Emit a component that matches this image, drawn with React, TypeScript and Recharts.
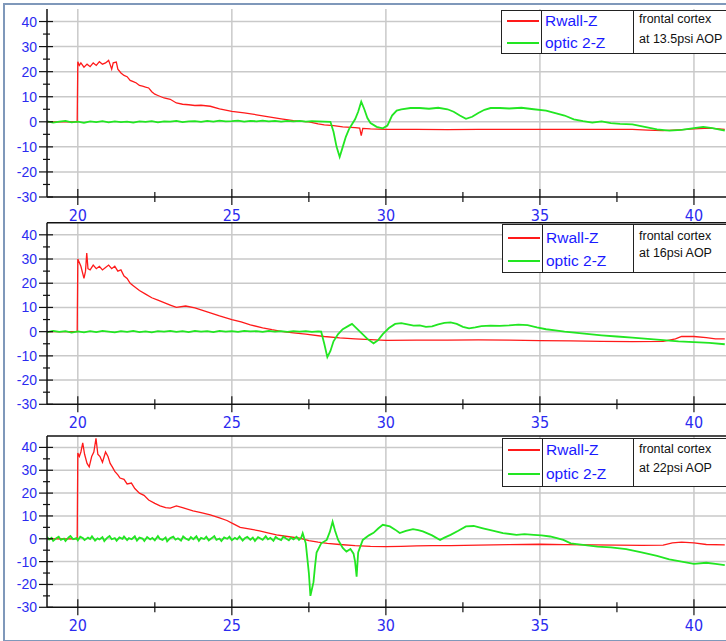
import React from "react";
import { LineChart, Line, XAxis, YAxis, CartesianGrid, ReferenceLine } from "recharts";

// x ticks (major every 5, minor halfway) and y ticks
const xTicks = [20, 22.5, 25, 27.5, 30, 32.5, 35, 37.5, 40];
const yTicks = [-30, -25, -20, -15, -10, -5, 0, 5, 10, 15, 20, 25, 30, 35, 40];
const xGrid = [20, 25, 30, 35, 40];
const yGrid = [-20, -10, 0, 10, 20, 30, 40];

const seriesNames = ["Rwall-Z", "optic 2-Z"];
const panelNotes = ["at 13.5psi AOP", "at 16psi AOP", "at 22psi AOP"];

// panel 1 (13.5 psi)
const rwall1: [number, number][] = [
  [19, 0], [19.5, 0], [19.98, 0], [20, 24], [20.05, 22.5], [20.1, 23.5], [20.2, 21.8], [20.3, 23],
  [20.4, 22], [20.5, 23.5], [20.6, 22.5], [20.7, 24], [20.8, 23], [20.9, 23.5], [21.0, 24.5],
  [21.05, 22.8], [21.1, 21], [21.15, 23.5], [21.25, 23.8], [21.3, 21], [21.4, 19.5], [21.5, 18.5],
  [21.6, 18], [21.7, 16.5], [21.8, 16], [21.9, 15.5], [22.0, 14.5], [22.1, 14.2], [22.2, 13.8],
  [22.3, 13.5], [22.4, 12], [22.5, 11], [22.6, 10.5], [22.7, 10], [22.8, 9.5], [23, 9], [23.2, 7.5],
  [23.4, 7], [23.6, 6.8], [23.8, 6.5], [24.0, 6.6], [24.3, 6.2], [24.6, 5.2], [25, 4.2], [25.4, 3.6],
  [25.8, 2.8], [26.2, 2], [26.6, 1.2], [27, 0.5], [27.5, 0], [27.8, -0.8], [28, -1.2], [28.3, -1.5],
  [28.6, -2], [29, -2.3], [29.15, -2.5], [29.2, -5.5], [29.25, -2.6], [29.5, -2.8], [30, -3],
  [31, -3], [32, -3.1], [33, -3], [34, -3], [35, -3], [36, -3], [37, -3], [38, -3], [38.5, -3.3],
  [39, -3.5], [39.5, -3.2], [40, -2.8], [40.5, -2.5], [41, -3],
];
const optic1: [number, number][] = [
  [19.0, 0.2], [19.2, -0.3], [19.4, 0.1], [19.6, 0.4], [19.8, -0.2], [20.0, 0.1], [20.2, -0.4],
  [20.4, 0.2], [20.6, -0.1], [20.8, 0.3], [21.0, -0.2], [21.2, 0.2], [21.4, -0.1], [21.6, 0.1],
  [21.8, -0.3], [22.0, 0.2], [22.2, 0], [22.4, 0.3], [22.6, -0.2], [22.8, 0.2], [23.0, 0.1],
  [23.2, 0.4], [23.4, -0.1], [23.6, 0.2], [23.8, 0.3], [24.0, 0], [24.2, 0.4], [24.4, 0.1],
  [24.6, 0.5], [24.8, 0.2], [25.0, 0.3], [25.2, 0.5], [25.4, 0.1], [25.6, 0.4], [25.8, 0.2],
  [26.0, 0.5], [26.2, 0.2], [26.4, 0.4], [26.6, 0.1], [26.8, 0.4], [27.0, 0.2], [27.2, 0.4],
  [27.4, 0.1], [27.6, 0.3], [27.8, 0.2], [28.0, 0.1], [28.2, 0], [28.3, -4], [28.4, -10],
  [28.5, -14], [28.6, -10], [28.7, -6], [28.8, -3], [28.9, -1], [29.0, 1], [29.1, 4], [29.2, 8],
  [29.3, 5], [29.4, 1.5], [29.5, -0.5], [29.7, -2], [29.9, -2.6], [30.05, -1.5], [30.2, 2.5],
  [30.35, 4.5], [30.5, 5], [30.8, 5.5], [31.1, 5.5], [31.4, 5.2], [31.7, 5.6], [32, 5], [32.2, 4],
  [32.4, 2.5], [32.6, 1.2], [32.8, 2], [33, 3.5], [33.2, 4.8], [33.4, 5.5], [33.7, 5.5], [34, 5.3],
  [34.4, 5.6], [34.8, 5], [35.2, 4.5], [35.5, 3.5], [35.8, 2.5], [36.1, 1], [36.4, 0.3],
  [36.7, -0.3], [37, 0.2], [37.3, -0.5], [37.6, -0.8], [38, -1], [38.4, -2], [38.8, -3],
  [39.2, -3.5], [39.6, -3.2], [40, -2.5], [40.3, -2], [40.6, -2.5], [41, -3.5],
];

// panel 2 (16 psi)
const rwall2: [number, number][] = [
  [19, 0], [19.98, 0], [20, 30], [20.1, 27], [20.2, 22], [20.25, 25], [20.29, 32.5], [20.33, 26],
  [20.4, 25.5], [20.5, 27.5], [20.6, 26], [20.7, 27], [20.8, 25.5], [20.9, 26.5], [21, 27.5],
  [21.1, 26], [21.2, 27], [21.3, 25], [21.4, 25.5], [21.5, 23], [21.6, 22], [21.7, 20], [21.8, 19],
  [22, 17], [22.2, 15.5], [22.4, 14], [22.6, 13], [22.8, 12], [23, 11], [23.2, 10], [23.5, 10.6],
  [23.8, 9.8], [24, 9], [24.3, 7.8], [24.6, 6.5], [25, 5], [25.3, 4], [25.6, 2.8], [26, 1.6],
  [26.3, 0.8], [26.6, 0.1], [27, -0.5], [27.4, -1], [28, -2], [28.5, -2.6], [29, -3], [29.5, -3.3],
  [30, -3.6], [31, -3.5], [32, -3.5], [33, -3.4], [34, -3.5], [35, -3.7], [36, -3.8], [37, -4],
  [38, -4.1], [39, -4], [39.4, -3], [39.6, -2], [40, -2], [40.4, -2.5], [40.7, -3], [41, -3],
];
const optic2: [number, number][] = [
  [19.0, -0.2], [19.2, 0.3], [19.4, -0.1], [19.6, 0.2], [19.8, -0.4], [20.0, 0.1], [20.2, -0.3],
  [20.4, 0.2], [20.6, -0.2], [20.8, 0.3], [21.0, 0], [21.2, -0.3], [21.4, 0.2], [21.6, -0.1],
  [21.8, 0.3], [22.0, -0.2], [22.2, 0.1], [22.4, -0.3], [22.6, 0.2], [22.8, 0], [23.0, 0.3],
  [23.2, -0.1], [23.4, 0.2], [23.6, -0.2], [23.8, 0.3], [24.0, 0], [24.2, 0.2], [24.4, -0.2],
  [24.6, 0.3], [24.8, 0], [25.0, 0.2], [25.2, -0.1], [25.4, 0.3], [25.6, 0.1], [25.8, 0.2],
  [26.0, -0.1], [26.2, 0.3], [26.4, 0], [26.6, 0.2], [26.8, -0.1], [27.0, 0.2], [27.2, 0],
  [27.4, 0.2], [27.6, -0.1], [27.8, 0.1], [27.9, 0], [28.0, -5], [28.1, -10.5], [28.2, -8],
  [28.3, -4], [28.45, -1], [28.6, 1], [28.8, 2.5], [28.9, 3.2], [29.0, 2], [29.2, -0.5], [29.4, -3],
  [29.6, -4.8], [29.75, -3.5], [29.9, -1], [30.1, 1.5], [30.3, 3.2], [30.5, 3.5], [30.7, 3],
  [30.9, 2.5], [31.1, 2.6], [31.3, 2], [31.5, 2.2], [31.7, 3], [31.9, 3.6], [32.1, 3.8], [32.3, 3.2],
  [32.5, 2], [32.7, 1.4], [32.9, 1.8], [33.1, 2.3], [33.4, 2.5], [33.7, 2.4], [34, 2.6], [34.3, 2.9],
  [34.6, 2.7], [34.9, 1.8], [35.2, 1], [35.5, 0.5], [35.8, 0], [36.2, -0.5], [36.6, -1], [37, -1.5],
  [37.5, -2], [38, -2.5], [38.5, -3], [39, -3.5], [39.5, -4], [40, -4.3], [40.5, -4.6], [41, -5.2],
];

// panel 3 (22 psi)
const rwall3: [number, number][] = [
  [19, 0], [19.98, 0], [20, 37.5], [20.05, 36], [20.1, 38], [20.16, 42], [20.22, 37], [20.3, 33],
  [20.37, 31.5], [20.45, 36], [20.52, 38], [20.59, 44], [20.65, 37], [20.72, 36], [20.8, 33.5],
  [20.9, 38], [20.98, 36], [21.05, 33], [21.12, 31.5], [21.2, 29.5], [21.3, 28], [21.37, 26.6],
  [21.5, 26], [21.6, 24], [21.74, 24.4], [21.85, 22], [22, 20], [22.15, 19], [22.3, 17],
  [22.5, 15.5], [22.67, 14.4], [22.85, 13.6], [23, 13.4], [23.2, 14.4], [23.4, 13.6],
  [23.74, 12.2], [24, 11.5], [24.3, 10.5], [24.6, 9.2], [24.84, 8], [25.05, 6.5], [25.27, 5],
  [25.6, 4.2], [25.9, 3.5], [26.2, 2.5], [26.45, 1.7], [26.8, 1], [27.2, 0.3], [27.5, -0.8],
  [27.8, -1.5], [28.1, -2], [28.5, -2.5], [29, -3], [29.5, -3.3], [30, -3.4], [30.5, -3.3],
  [31, -3.1], [31.5, -3], [32.1, -3], [33, -2.8], [34, -2.6], [35, -2.4], [35.8, -2.6],
  [36.7, -2.7], [37.5, -2.8], [38.3, -2.9], [39, -2.8], [39.3, -1.8], [39.6, -1.5], [40, -1.8],
  [40.4, -2.5], [41, -2.7],
];
const optic3: [number, number][] = [
  [19.0, 0.8], [19.07, -0.3], [19.15, 0.4], [19.2, -0.9], [19.3, 0.2], [19.38, 0.9], [19.45, -0.5],
  [19.55, 0.1], [19.6, -1], [19.7, 0.6], [19.76, 1.2], [19.85, -0.2], [19.95, 0.3], [20.0, -0.7],
  [20.08, 0.9], [20.17, 0.2], [20.22, -0.6], [20.33, 0.5], [20.4, -0.1], [20.46, 1.1], [20.56, -0.8],
  [20.64, 0.2], [20.7, -0.3], [20.8, 0.7], [20.86, -1], [20.95, 0.4], [21.03, 1.2], [21.1, -0.2],
  [21.2, 0.3], [21.26, -0.9], [21.35, 0.6], [21.45, 0], [21.5, 1], [21.6, -0.6], [21.66, 0.3],
  [21.75, -0.2], [21.85, 1.1], [21.92, -0.8], [22.0, 0.5], [22.1, 0.1], [22.16, -1], [22.25, 0.8],
  [22.35, -0.3], [22.42, 0.4], [22.5, -0.7], [22.6, 1.2], [22.66, 0], [22.75, -0.5], [22.85, 0.6],
  [22.9, -1.1], [23.0, 0.3], [23.1, 0.9], [23.17, -0.4], [23.25, 0.2], [23.35, -0.8], [23.42, 1],
  [23.5, 0.1], [23.6, -0.6], [23.67, 0.7], [23.75, -0.2], [23.85, 1.1], [23.93, -0.9], [24.0, 0.4],
  [24.1, -0.1], [24.17, 0.9], [24.25, -0.7], [24.35, 0.3], [24.43, 1.2], [24.5, -0.5], [24.6, 0.1],
  [24.66, -1], [24.75, 0.6], [24.85, 0], [24.92, 0.9], [25.0, -0.6], [25.1, 0.4], [25.17, -0.2],
  [25.25, 1], [25.35, -0.8], [25.42, 0.2], [25.5, 0.8], [25.6, -0.4], [25.68, 0.5], [25.75, -1],
  [25.85, 0.7], [25.93, 0.1], [26.0, -0.5], [26.1, 1.1], [26.17, -0.2], [26.25, 0.4], [26.35, -0.9],
  [26.42, 0.8], [26.5, 0], [26.6, -0.6], [26.67, 1], [26.75, 0.2], [26.85, -0.7], [26.92, 0.5],
  [27.0, -0.3], [27.1, 0.9], [27.18, -0.5], [27.25, 0.4], [27.3, 2.4],
  [27.4, -2], [27.5, -15], [27.55, -25], [27.6, -22], [27.65, -19], [27.7, -12], [27.75, -6],
  [27.9, -2], [28.08, -0.5], [28.18, 3], [28.27, 7.5], [28.35, 3.5], [28.45, -0.5], [28.6, -4],
  [28.72, -5.6], [28.85, -4.5], [28.95, -6.5], [29.0, -10], [29.05, -16.6], [29.1, -6],
  [29.25, -0.5], [29.45, 1.5], [29.6, 2.6], [29.75, 4.5], [29.9, 6.1], [30.13, 5.4], [30.3, 4],
  [30.45, 2.5], [30.65, 3.5], [30.88, 4.2], [31.05, 3.8], [31.2, 3.2], [31.5, 1.5], [31.76, -0.5],
  [31.9, 0.5], [32.1, 1.7], [32.35, 3.5], [32.6, 5.4], [32.85, 5.6], [33.15, 4.6], [33.5, 3.5],
  [33.8, 2.5], [34.24, 1.7], [34.5, 2], [34.8, 1.7], [35.05, 1.5], [35.33, 1], [35.55, 0.3],
  [35.76, -0.5], [36, -2], [36.4, -2.7], [36.87, -3.4], [37.3, -3.8], [37.8, -4.5], [38.3, -6],
  [38.8, -7.5], [39.2, -9], [39.6, -10], [40, -11], [40.4, -10.5], [40.7, -11], [41, -11.5],
];

const toPts = (arr: [number, number][]) => arr.map(([x, y]) => ({ x, y }));

const BLUE = "#2b2bf0";
const RED = "#ff1a1a";
const GREEN = "#22e622";

const XTick = (props: any) => {
  const { x, y, payload } = props;
  const major = payload.value % 5 === 0;
  return (
    <g>
      <line x1={x} x2={x} y1={y - (major ? 8 : 5)} y2={y + (major ? 8 : 5)} stroke="#111" strokeWidth={1.2} />
      {major && (
        <text
          x={x}
          y={y + 24}
          textAnchor="middle"
          fill={BLUE}
          fontSize={16}
          fontFamily="'Liberation Sans Narrow', 'DejaVu Sans Condensed', Arial, sans-serif"
        >
          {payload.value}
        </text>
      )}
    </g>
  );
};

const YTick = (props: any) => {
  const { x, y, payload } = props;
  const major = payload.value % 10 === 0;
  return (
    <g>
      <line x1={x - (major ? 8 : 4)} x2={x + (major ? 6 : 3)} y1={y} y2={y} stroke="#111" strokeWidth={1.2} />
      {major && (
        <text
          x={x - 10}
          y={y + 5}
          textAnchor="end"
          fill={BLUE}
          fontSize={14}
          fontFamily="'Liberation Sans', Arial, sans-serif"
        >
          {payload.value}
        </text>
      )}
    </g>
  );
};

interface PanelProps {
  top: number;
  plotTop: number;
  plotBottom: number;
  rwall: [number, number][];
  optic: [number, number][];
  topLine: boolean;
}

const Panel = ({ top, plotTop, plotBottom, rwall, optic, topLine }: PanelProps) => {
  const axisH = 30;
  return (
    <div style={{ position: "absolute", left: 0, top }}>
      <LineChart width={726} height={plotBottom + axisH} margin={{ top: plotTop, right: 0, bottom: 0, left: 0 }}>
        <CartesianGrid
          stroke="#c9c9c9"
          strokeWidth={1.5}
          horizontalValues={yGrid}
          verticalValues={xGrid}
        />
        <XAxis
          type="number"
          dataKey="x"
          domain={[19, 41.04]}
          allowDataOverflow
          ticks={xTicks}
          interval={0}
          height={axisH}
          tickSize={0}
          tickMargin={0}
          tickLine={false}
          axisLine={{ stroke: "#111", strokeWidth: 1.5 }}
          tick={<XTick />}
        />
        <YAxis
          type="number"
          domain={[-30, 45]}
          allowDataOverflow
          ticks={yTicks}
          interval={0}
          width={47}
          tickSize={0}
          tickMargin={0}
          tickLine={false}
          axisLine={{ stroke: "#111", strokeWidth: 1.5 }}
          tick={<YTick />}
        />
        {topLine && <ReferenceLine y={45} stroke="#111" strokeWidth={1.5} />}
        <Line
          data={toPts(rwall)}
          dataKey="y"
          type="linear"
          stroke={RED}
          strokeWidth={1.3}
          dot={false}
          isAnimationActive={false}
        />
        <Line
          data={toPts(optic)}
          dataKey="y"
          type="linear"
          stroke={GREEN}
          strokeWidth={1.8}
          dot={false}
          isAnimationActive={false}
        />
      </LineChart>
    </div>
  );
};

interface LegendProps {
  top: number;
  height: number;
  left: number;
  redY: number;
  greenY: number;
  note1Y: number;
  note2Y: number;
  note: string;
}

const LegendBox = ({ top, height, left, redY, greenY, note1Y, note2Y, note }: LegendProps) => {
  const mid = left + 40;
  const right = 633;
  const seriesFont: React.CSSProperties = {
    position: "absolute",
    left: mid + 3 - left,
    fontFamily: "'Liberation Sans', Arial, sans-serif",
    fontSize: 15.5,
    color: "#1a1aff",
    lineHeight: "18px",
    whiteSpace: "nowrap",
  };
  const noteFont: React.CSSProperties = {
    position: "absolute",
    left: right + 5 - left,
    fontFamily: "'Liberation Sans', Arial, sans-serif",
    fontSize: 12.5,
    color: "#111",
    lineHeight: "14px",
    whiteSpace: "nowrap",
  };
  return (
    <div
      style={{
        position: "absolute",
        left,
        top,
        width: 760 - left,
        height,
        border: "1px solid #222",
        background: "#fff",
        boxSizing: "border-box",
      }}
    >
      <div style={{ position: "absolute", left: mid - left - 1, top: 0, bottom: 0, borderLeft: "1px solid #222" }} />
      <div style={{ position: "absolute", left: right - left - 1, top: 0, bottom: 0, borderLeft: "1px solid #222" }} />
      <div style={{ position: "absolute", left: 5, width: 32, top: redY - top - 1, height: 1.5, background: RED }} />
      <div style={{ position: "absolute", left: 5, width: 32, top: greenY - top - 1, height: 1.5, background: GREEN }} />
      <div style={{ ...seriesFont, top: redY - top - 9 }}>{seriesNames[0]}</div>
      <div style={{ ...seriesFont, top: greenY - top - 9 }}>{seriesNames[1]}</div>
      <div style={{ ...noteFont, top: note1Y - top - 8 }}>frontal cortex</div>
      <div style={{ ...noteFont, top: note2Y - top - 8 }}>{note}</div>
    </div>
  );
};

export default function App() {
  return (
    <div
      style={{
        position: "absolute",
        left: 0,
        top: 0,
        width: 726,
        height: 641,
        overflow: "hidden",
        background: "#fff",
      }}
    >
      <Panel top={0} plotTop={9} plotBottom={197} rwall={rwall1} optic={optic1} topLine={false} />
      <Panel top={212} plotTop={10.7} plotBottom={192.3} rwall={rwall2} optic={optic2} topLine={true} />
      <Panel top={420} plotTop={16} plotBottom={187.3} rwall={rwall3} optic={optic3} topLine={true} />
      <LegendBox top={10} height={44} left={501} redY={20} greenY={42} note1Y={19} note2Y={39} note={panelNotes[0]} />
      <LegendBox top={224} height={49} left={502} redY={237} greenY={260} note1Y={236} note2Y={253} note={panelNotes[1]} />
      <LegendBox top={438} height={49} left={502} redY={449} greenY={473} note1Y={449} note2Y={468} note={panelNotes[2]} />
      <div
        style={{
          position: "absolute",
          left: 3,
          top: 3,
          width: 800,
          height: 635,
          borderLeft: "2px solid #7f98ba",
          borderTop: "2px solid #7f98ba",
          borderBottom: "2px solid #7f98ba",
          pointerEvents: "none",
        }}
      />
    </div>
  );
}
